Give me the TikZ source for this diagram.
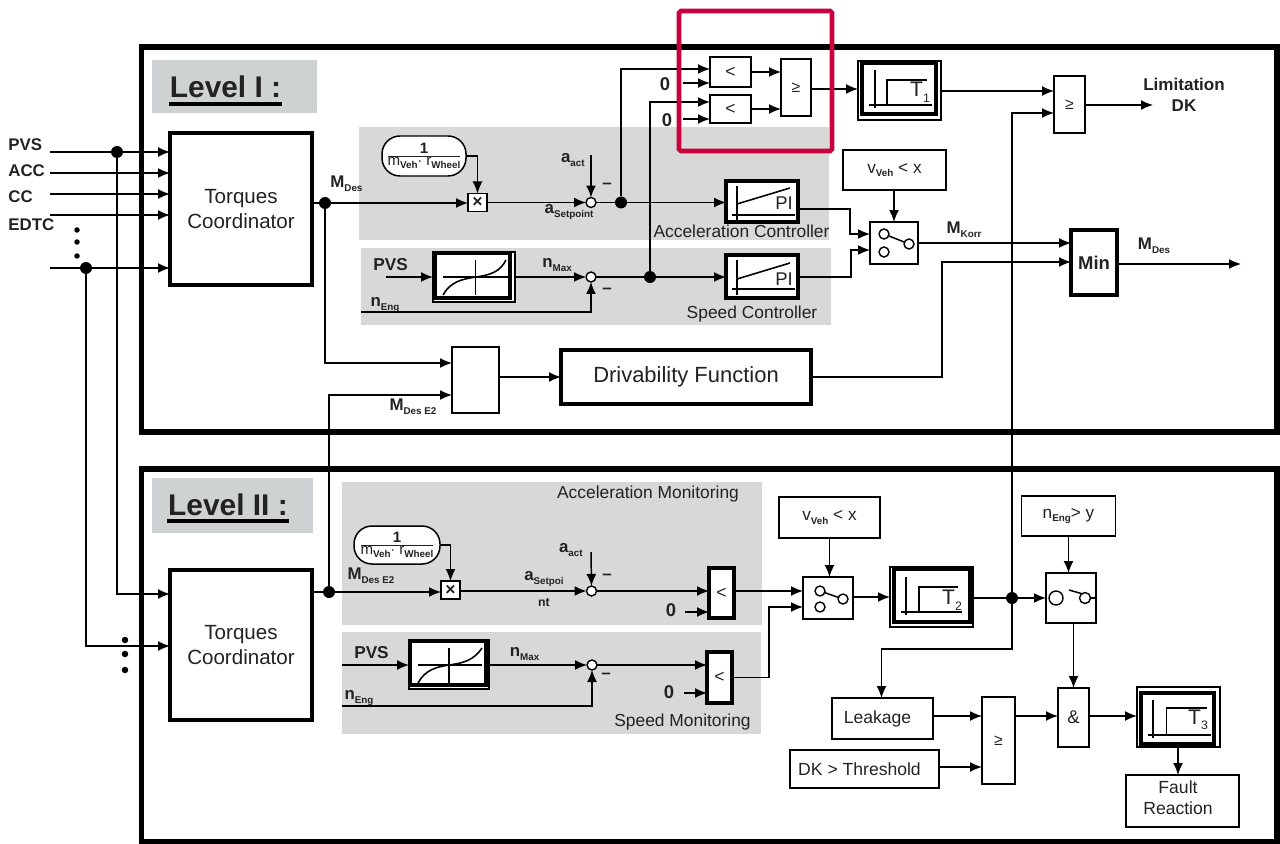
\documentclass[tikz,border=0pt]{standalone}
\usepackage{fontspec}
\setmainfont{Liberation Sans}
\usetikzlibrary{arrows.meta}
\definecolor{panelgray}{HTML}{D8D8D8}
\definecolor{levelgray}{HTML}{CED2D3}
\definecolor{markred}{HTML}{C8003C}
\definecolor{inkgray}{HTML}{222222}
\newcommand{\subt}[1]{\raisebox{-0.4ex}{\fontsize{5.6}{6}\selectfont\bfseries #1}}
\tikzset{
  sz/.style 2 args={minimum width=#1*0.02cm, minimum height=#2*0.02cm},
  blk/.style={draw, line width=0.85pt, inner sep=0pt, outer sep=0pt, fill=white, text=inkgray},
  blkb/.style={blk, line width=1.8pt},
  wire/.style={line width=0.85pt},
  arr/.style={wire, -{Latex[length=0.24cm,width=0.2cm]}},
  jct/.style={circle, fill=black, inner sep=0pt, outer sep=0pt, minimum size=0.24cm},
  sumc/.style={circle, draw, line width=0.8pt, fill=white, inner sep=0pt, outer sep=0pt, minimum size=0.2cm},
  lvl/.style={font=\fontsize{17}{18}\selectfont\bfseries, text=inkgray, inner sep=0pt},
  bigtxt/.style={font=\fontsize{11.7}{14}\selectfont, align=center},
  midtxt/.style={font=\fontsize{9.9}{12}\selectfont, align=center, text=inkgray},
  lab/.style={font=\fontsize{9.6}{11}\selectfont\bfseries, inner sep=0pt, text=inkgray},
  glyph/.style={line width=0.9pt}
}
\begin{document}
\begin{tikzpicture}[x=0.02cm,y=-0.02cm]
\useasboundingbox (0,0) rectangle (1280,844);
% Panels
\fill[levelgray] (152,60) rectangle (317,113);
\fill[levelgray] (152,478) rectangle (313,533);
\fill[panelgray] (359,127) rectangle (829,240);
\fill[panelgray] (361,248) rectangle (831,325);
\fill[panelgray] (342,482) rectangle (762,625);
\fill[panelgray] (342,632) rectangle (761,734);
% Frames
\draw[line width=3pt] (141.5,47) rectangle (1277,432);
\draw[line width=3pt] (141.5,469) rectangle (1277,842);
\node[lvl] (lvlA) at (225.5,87) {Level I :};
\node[lvl] (lvlB) at (228,505) {Level II :};
\draw[line width=1.8pt] (169,104) -- (282,104);
\draw[line width=1.8pt] (167,521) -- (289,521);
% Level I nodes
\node[blkb, sz={142}{152}, bigtxt] (tcA) at (241,209) {Torques\\Coordinator};
\node[lab, anchor=west] (pvsA) at (8,145) {PVS};
\node[lab, anchor=west] (acc) at (8,171) {ACC};
\node[lab, anchor=west] (cc) at (8,197) {CC};
\node[lab, anchor=west] (edtc) at (8,225) {EDTC};
\coordinate (inPVS) at (50,152);
\coordinate (inACC) at (50,173);
\coordinate (inCC) at (50,194);
\coordinate (inEDTC) at (50,215);
\coordinate (inX) at (50,268);
\node[jct] (jPVS) at (117,152) {};
\node[jct] (jX) at (86,268) {};
\node[jct, minimum size=0.11cm] (dotA) at (77,230) {};
\node[jct, minimum size=0.11cm] (dotB) at (77,242) {};
\node[jct, minimum size=0.11cm] (dotC) at (77,256) {};
\node[jct] (jM) at (325,203) {};
\node[lab, anchor=west] (mDesA) at (330,184) {M\subt{Des}};
\node[blk, sz={19}{18}, font=\fontsize{10}{10}\selectfont\bfseries] (mulA) at (477.5,202.5) {×};
\node[blk, rounded corners=0.36cm, sz={84}{40}, font=\fontsize{8.6}{9}\selectfont] (fracA) at (424,156) {$\frac{\mbox{\bfseries 1}}{\mbox{m\subt{Veh}$\cdot$ r\subt{Wheel}}}$};
\node[sumc] (sumA) at (591,202.5) {};
\coordinate (aactA) at (591,155);
\node[lab, anchor=east] (aactLab) at (585,160) {a\subt{act}};
\node[lab] (minA) at (607,186) {–};
\node[lab] (aSet) at (569,212) {a\subt{Setpoint}};
\node[jct] (jSetA) at (621,202.5) {};
\node[jct] (jSetB) at (650,277) {};
\node[blkb, sz={72}{41}] (piA) at (762,201.5) {};
\node[blkb, sz={72}{43}] (piB) at (762,276.5) {};
\node[midtxt] (accCtrl) at (741.5,231) {Acceleration Controller};
\node[midtxt] (spdCtrl) at (752,314) {Speed Controller};
\node[lab, font=\fontsize{9.8}{11}\selectfont\bfseries, anchor=west] (pvsB) at (373,265) {PVS};
\coordinate (pvsInA) at (386,277);
\node[blk, sz={82}{50}] (crvA) at (474,277) {};
\node[blkb, sz={75}{45}] (crvAi) at (472.5,275.5) {};
\node[sumc] (sumB) at (591,277) {};
\node[lab] (nMaxA) at (557,265) {n\subt{Max}};
\coordinate (nEngA) at (361,312);
\node[lab] (nEngLabA) at (385,305) {n\subt{Eng}};
\node[lab] (minB) at (607,291) {–};
\node[blk, sz={41}{30}, font=\fontsize{10}{10}\selectfont] (ltA) at (730.5,72) {<};
\node[blk, sz={41}{28}, font=\fontsize{10}{10}\selectfont] (ltB) at (730.5,109) {<};
\node[lab, font=\fontsize{10.5}{11}\selectfont\bfseries] (zeroA) at (665,84) {0};
\node[lab, font=\fontsize{10.5}{11}\selectfont\bfseries] (zeroB) at (667,120) {0};
\coordinate (zeroInA) at (683,83);
\coordinate (zeroInB) at (683,119);
\node[blk, sz={30}{57}, font=\fontsize{9}{10}\selectfont] (geA) at (796,87.5) {≥};
\node[blk, sz={83}{59}] (tOne) at (899.5,90.5) {};
\node[blkb, sz={74}{51}] (tOnei) at (899,88.5) {};
\node[blk, sz={31}{57}, font=\fontsize{9}{10}\selectfont] (geB) at (1069.5,104.5) {≥};
\node[lab, font=\fontsize{9.7}{12}\selectfont\bfseries, align=center] (limit) at (1184,95) {Limitation\\DK};
\coordinate (limitIn) at (1153,105);
\node[blk, sz={103}{40}, font=\fontsize{9.8}{11}\selectfont] (vVehA) at (894.5,170) {v\subt{Veh} < x};
\node[blk, sz={48}{42}] (swA) at (894,243) {};
\node[sumc] (cAa) at (884,234) {};
\node[sumc] (cAb) at (884,252) {};
\node[sumc] (cAc) at (909,244) {};
\node[lab] (mKorr) at (964,230) {M\subt{Korr}};
\node[blkb, sz={46}{65}, font=\fontsize{10.5}{12}\selectfont\bfseries] (minBox) at (1094,262.5) {Min};
\node[lab] (mDesB) at (1154,246) {M\subt{Des}};
\coordinate (mDesOut) at (1241,264);
\node[blk, sz={47}{66}] (merge) at (475.5,380) {};
\node[lab] (mE2A) at (413,407) {M\subt{Des E2}};
\node[blkb, sz={250}{54}, font=\fontsize{12.5}{14}\selectfont] (driv) at (686,377) {Drivability Function};
% Level II nodes
\node[blkb, sz={142}{150}, bigtxt] (tcB) at (241,645) {Torques\\Coordinator};
\node[jct, minimum size=0.13cm] (dotD) at (125,640) {};
\node[jct, minimum size=0.13cm] (dotE) at (125,654) {};
\node[jct, minimum size=0.13cm] (dotF) at (125,670) {};
\node[jct] (jE2) at (329,592) {};
\node[lab] (mE2B) at (371,576) {M\subt{Des E2}};
\node[blk, sz={19}{18}, font=\fontsize{10}{10}\selectfont\bfseries] (mulB) at (450.5,590) {×};
\node[blk, rounded corners=0.36cm, sz={86}{38}, font=\fontsize{8.6}{9}\selectfont] (fracB) at (397,545) {$\frac{\mbox{\bfseries 1}}{\mbox{m\subt{Veh}$\cdot$ r\subt{Wheel}}}$};
\node[sumc] (sumC) at (591.5,591) {};
\coordinate (aactB) at (591,552);
\node[lab, anchor=east] (aactLabB) at (583,550) {a\subt{act}};
\node[lab] (minC) at (607,577) {–};
\node[lab] (aSetB) at (544,579) {a\subt{Setpoi}};
\node[lab, font=\fontsize{7}{8}\selectfont\bfseries] (aSetC) at (544,603) {nt};
\node[midtxt] (accMon) at (648,494) {Acceleration Monitoring};
\node[midtxt] (spdMon) at (682.5,722) {Speed Monitoring};
\node[blkb, sz={25}{50}, font=\fontsize{10}{10}\selectfont] (ltC) at (721.5,593) {<};
\node[blkb, sz={25}{51}, font=\fontsize{10}{10}\selectfont] (ltD) at (719.5,677.5) {<};
\node[lab, font=\fontsize{10.5}{11}\selectfont\bfseries] (zeroC) at (671,610) {0};
\node[lab, font=\fontsize{10.5}{11}\selectfont\bfseries] (zeroD) at (669,692) {0};
\coordinate (zeroInC) at (685,612);
\coordinate (zeroInD) at (684,693);
\node[lab, font=\fontsize{9.8}{11}\selectfont\bfseries] (pvsC) at (371.5,653) {PVS};
\coordinate (pvsInB) at (342,665);
\node[blk, sz={80}{49}] (crvB) at (449,664.5) {};
\node[blkb, sz={76}{44}] (crvBi) at (448,663) {};
\node[sumc] (sumD) at (592,665) {};
\node[lab] (nMaxB) at (524.5,654) {n\subt{Max}};
\coordinate (nEngB) at (342,706);
\node[lab] (nEngLabB) at (359,698) {n\subt{Eng}};
\node[lab] (minD) at (606,676) {–};
\node[blk, sz={101}{41}, font=\fontsize{9.8}{11}\selectfont] (vVehB) at (829.5,517.5) {v\subt{Veh} < x};
\node[blk, sz={50}{42}] (swB) at (828,598) {};
\node[sumc] (cBa) at (820,591) {};
\node[sumc] (cBb) at (820,607) {};
\node[sumc] (cBc) at (843,599) {};
\node[blk, sz={83}{60}] (tTwo) at (931.5,597) {};
\node[blkb, sz={76}{53}] (tTwoi) at (932,595.5) {};
\node[jct] (jT) at (1012,598) {};
\node[blk, sz={94}{40}, font=\fontsize{9.8}{11}\selectfont] (nEngBox) at (1068.5,516) {n\subt{Eng}> y};
\node[blk, sz={50}{50}] (swC) at (1071,598) {};
\node[sumc, minimum width=0.2cm, minimum height=0.28cm] (cCa) at (1056,598) {};
\node[sumc, minimum width=0.2cm, minimum height=0.22cm] (cCb) at (1085,598) {};
\node[blk, sz={31}{59}, font=\fontsize{10.5}{12}\selectfont] (andBox) at (1073.5,717.5) {\&};
\node[blk, sz={101}{41}, font=\fontsize{10}{12}\selectfont] (leak) at (882.5,718.5) {Leakage\hspace*{0.2cm}};
\node[blk, sz={149}{38}, font=\fontsize{10}{12}\selectfont] (thresh) at (864.5,769) {DK > Threshold\hspace*{0.2cm}};
\node[blk, sz={33}{87}, font=\fontsize{9}{10}\selectfont] (geC) at (998.5,740.5) {≥};
\node[blk, sz={83}{60}] (tThree) at (1178.5,717) {};
\node[blkb, sz={73}{51}] (tThreei) at (1177.5,718.5) {};
\node[blk, sz={113}{52}] (fault) at (1182.5,801) {};
\node[midtxt, font=\fontsize{10}{12}\selectfont] (faultTxt) at (1178,798) {Fault\\Reaction};
% Block pictures
\draw[glyph] (737,186) -- (737,220) (732,215) -- (795,215);
\draw[glyph] (737,204) -- (790,188);
\node[midtxt, font=\fontsize{10.5}{12}\selectfont] (piTxtA) at (784,203) {PI};
\draw[glyph] (737,260) -- (737,295) (732,289) -- (795,289);
\draw[glyph] (737,279) -- (790,263);
\node[midtxt, font=\fontsize{10.5}{12}\selectfont] (piTxtB) at (784,279) {PI};
\draw[glyph] (475.5,260) -- (475.5,295) (443,277) -- (508,277);
\draw[glyph] (443,295) .. controls (450,282) and (462,279) .. (476,277) .. controls (490,275) and (500,272) .. (506,260);
\draw[glyph] (449,648) -- (449,683) (418,665) -- (482,665);
\draw[glyph] (418,683) .. controls (425,670) and (436,667) .. (449,665) .. controls (464,663) and (474,660) .. (482,648);
\draw[glyph] (875,70) -- (875,108) (869,105) -- (932,105);
\draw[glyph] (887,105) -- (887,80) -- (927,80);
\node[midtxt, font=\fontsize{12}{14}\selectfont] (tTxtA) at (920,92) {T\raisebox{-0.5ex}{\fontsize{7}{8}\selectfont 1}};
\draw[glyph] (906,577) -- (906,615) (901,612) -- (962,612);
\draw[glyph] (919,612) -- (919,587) -- (958,587);
\node[midtxt, font=\fontsize{12}{14}\selectfont] (tTxtB) at (952,600) {T\raisebox{-0.5ex}{\fontsize{7}{8}\selectfont 2}};
\draw[glyph] (1153,700) -- (1153,738) (1148,735) -- (1211,735);
\draw[glyph] (1166.5,735) -- (1166.5,708) -- (1206.5,708);
\node[midtxt, font=\fontsize{12}{14}\selectfont] (tTxtC) at (1198,720) {T\raisebox{-0.5ex}{\fontsize{7}{8}\selectfont 3}};
% Edges
\draw[arr] (inPVS) -- (inPVS -| tcA.west);
\draw[arr] (inACC) -- (inACC -| tcA.west);
\draw[arr] (inCC) -- (inCC -| tcA.west);
\draw[arr] (inEDTC) -- (inEDTC -| tcA.west);
\draw[arr] (inX) -- (inX -| tcA.west);
\draw[arr] (jPVS) |- (tcB.west |- 0,594);
\draw[arr] (jX) |- (tcB.west |- 0,646);
\draw[wire] (jM -| tcA.east) -- (jM);
\draw[arr] (jM) -- (jM -| mulA.west);
\draw[arr] (jM) |- (merge.west |- 0,363);
\draw[arr] (fracA.east) -| (mulA.north);
\draw[arr] (mulA.east) -- (sumA.west);
\draw[arr] (aactA) -- (sumA.north);
\draw[wire] (sumA.east) -- (jSetA);
\draw[arr] (jSetA) -- (jSetA -| piA.west);
\draw[arr] (jSetA) |- (ltA.west |- 0,69);
\draw[arr] (jSetB) |- (ltB.west |- 0,102);
\draw[arr] (zeroInA) -- (zeroInA -| ltA.west);
\draw[arr] (zeroInB) -- (zeroInB -| ltB.west);
\draw[arr] (ltA.east) -- (ltA.east -| geA.west);
\draw[arr] (ltB.east) -- (ltB.east -| geA.west);
\draw[arr] (geA.east |- 0,89) -- (tOne.west |- 0,89);
\draw[arr] (tOne.east |- 0,91) -- (geB.west |- 0,91);
\draw[arr] (jT) |- (geB.west |- 0,113);
\draw[arr] (geB.east |- limitIn) -- (limitIn);
\draw[arr] (pvsInA) -- (pvsInA -| crvA.west);
\draw[arr] (crvA.east) -- (sumB.west);
\draw[arr] (nEngA) -| (sumB.south);
\draw[wire] (sumB.east) -- (jSetB);
\draw[arr] (jSetB) -- (jSetB -| piB.west);
\draw[arr] (piA.east |- 0,209) -- ++(52,0) |- (swA.west |- cAa);
\draw[arr] (piB.east |- jSetB) -- ++(53,0) |- (swA.west |- 0,250);
\draw[arr] (vVehA.south -| swA.north) -- (swA.north);
\draw[wire] (cAa) -- (cAc);
\draw[arr] (swA.east |- 0,243) -- (minBox.west |- 0,243);
\draw[arr] (driv.east) -- ++(131,0) |- (minBox.west |- 0,262);
\draw[arr] (minBox.east |- mDesOut) -- (mDesOut);
\draw[arr] (jE2) |- (merge.west |- 0,395);
\draw[arr] (merge.east |- driv) -- (driv.west);
\draw[wire] (tcB.east |- jE2) -- (jE2);
\draw[arr] (jE2) -- (jE2 -| mulB.west);
\draw[arr] (fracB.east) -| (mulB.north);
\draw[arr] (mulB.east |- sumC) -- (sumC.west);
\draw[arr] (aactB) -- (sumC.north);
\draw[arr] (sumC.east) -- (ltC.west |- sumC);
\draw[arr] (zeroInC) -- (zeroInC -| ltC.west);
\draw[arr] (ltC.east |- sumC) -- (swB.west |- sumC);
\draw[arr] (pvsInB) -- (pvsInB -| crvB.west);
\draw[arr] (crvB.east |- sumD) -- (sumD.west);
\draw[arr] (nEngB) -| (sumD.south);
\draw[arr] (sumD.east) -- (ltD.west |- sumD);
\draw[arr] (zeroInD) -- (zeroInD -| ltD.west);
\draw[arr] (ltD.east) -- ++(37,0) |- (swB.west |- cBb);
\draw[arr] (vVehB.south) -- (vVehB.south |- swB.north);
\draw[wire] (cBa) -- (cBc);
\draw[arr] (swB.east |- tTwo) -- (tTwo.west);
\draw[wire] (tTwo.east |- jT) -- (jT);
\draw[arr] (jT) -- (swC.west |- jT);
\draw[arr] (nEngBox.south) -- (nEngBox.south |- swC.north);
\draw[wire] (1069,590) -- (1083,594);
\draw[wire] (cCb.east) -- (swC.east |- cCb);
\draw[arr] (swC.south -| andBox.north) -- (andBox.north);
\coordinate (leakBend) at (881.5,649);
\draw[arr] (jT) |- (leakBend) -- (leakBend |- leak.north);
\draw[arr] (leak.east |- 0,716) -- (geC.west |- 0,716);
\draw[arr] (thresh.east |- 0,767) -- (geC.west |- 0,767);
\draw[arr] (geC.east |- 0,716) -- (andBox.west |- 0,716);
\draw[arr] (andBox.east |- 0,716) -- (tThree.west |- 0,716);
\coordinate (faultIn) at (1178,775);
\draw[arr] (tThree.south -| faultIn) -- (faultIn);
% Highlight
\draw[markred, line width=2.6pt, rounded corners=1pt] (679,11) rectangle (832,151);
\end{tikzpicture}
\end{document}
